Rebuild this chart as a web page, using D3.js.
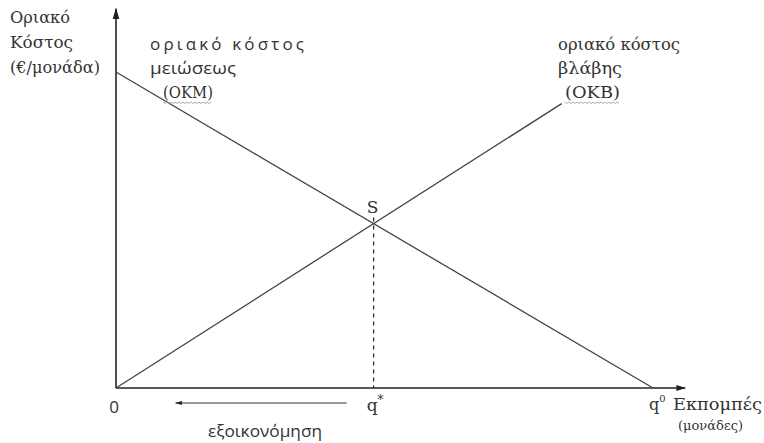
<!DOCTYPE html>
<html>
<head>
<meta charset="utf-8">
<script src="https://cdn.jsdelivr.net/npm/d3@7"></script>
<style>
  body { margin: 0; background: #fff; }
  svg { display: block; }
  .serif { font-family: "DejaVu Serif", serif; fill: #333; }
  .sans { font-family: "Open Sans", sans-serif; fill: #333; }
</style>
</head>
<body>
<div id="chart"></div>
<script>
// emissions (units) and marginal cost values (€/unit)
const okmQ = [0, 100];
const okmCost = [100, 0];
const okbQ = [0, 83];
const okbCost = [0, 90];
const axisMax = {q: 106, cost: 120};

const yTitle = ['Οριακό', 'Κόστος', '(€/μονάδα)'];
const okmLabel = ['οριακό κόστος', 'μειώσεως', '(ΟΚΜ)'];
const okbLabel = ['οριακό κόστος', 'βλάβης', '(ΟΚΒ)'];
const xTitle = ['Εκπομπές', '(μονάδες)'];
const savingLabel = 'εξοικονόμηση';

const width = 764, height = 443;

const svg = d3.select('#chart')
  .append('svg')
  .attr('width', width)
  .attr('height', height);

const x = d3.scaleLinear().domain([0, 100]).range([116, 653]);
const y = d3.scaleLinear().domain([0, 100]).range([388, 72]);

// intersection of the two lines
const mOkm = (okmCost[1] - okmCost[0]) / (okmQ[1] - okmQ[0]);
const mOkb = (okbCost[1] - okbCost[0]) / (okbQ[1] - okbQ[0]);
const qStar = (okmCost[0] - okbCost[0]) / (mOkb - mOkm);
const cStar = okbCost[0] + mOkb * qStar;

// arrow markers
const defs = svg.append('defs');
defs.append('marker')
  .attr('id', 'arrow')
  .attr('viewBox', '0 0 10 10')
  .attr('refX', 9).attr('refY', 5)
  .attr('markerWidth', 7).attr('markerHeight', 7)
  .attr('orient', 'auto-start-reverse')
  .append('path')
    .attr('d', 'M0,2 L10,5 L0,8 Z')
    .attr('fill', '#222');

// axes
svg.append('line')
  .attr('x1', x(0)).attr('y1', y(0))
  .attr('x2', x(0)).attr('y2', y(axisMax.cost))
  .attr('stroke', '#222').attr('stroke-width', 1.6)
  .attr('marker-end', 'url(#arrow)');

svg.append('line')
  .attr('x1', x(0)).attr('y1', y(0))
  .attr('x2', x(axisMax.q)).attr('y2', y(0))
  .attr('stroke', '#222').attr('stroke-width', 1.4)
  .attr('marker-end', 'url(#arrow)');

const line = d3.line()
  .x(d => x(d[0]))
  .y(d => y(d[1]));

[d3.zip(okmQ, okmCost), d3.zip(okbQ, okbCost)].forEach(pts => {
  svg.append('path')
    .datum(pts)
    .attr('d', line)
    .attr('fill', 'none')
    .attr('stroke', '#444')
    .attr('stroke-width', 1.3);
});

// dashed drop line from S
svg.append('line')
  .attr('x1', x(qStar)).attr('y1', y(cStar) - 6)
  .attr('x2', x(qStar)).attr('y2', y(0))
  .attr('stroke', '#222')
  .attr('stroke-width', 1.2)
  .attr('stroke-dasharray', '4,4');

svg.append('text')
  .attr('class', 'serif')
  .attr('x', x(qStar) - 1).attr('y', y(cStar) - 11)
  .attr('text-anchor', 'middle')
  .attr('font-size', 17)
  .text('S');

// saving arrow
svg.append('line')
  .attr('x1', x(qStar) - 27).attr('y1', 403)
  .attr('x2', x(qStar) - 198).attr('y2', 403)
  .attr('stroke', '#333')
  .attr('stroke-width', 1)
  .attr('marker-end', 'url(#arrow)');

svg.append('text')
  .attr('class', 'sans')
  .attr('x', 208).attr('y', 437)
  .attr('font-size', 16)
  .attr('textLength', 114)
  .attr('lengthAdjust', 'spacingAndGlyphs')
  .text(savingLabel);

// x-axis labels
svg.append('text')
  .attr('class', 'sans')
  .attr('x', x(0) - 2).attr('y', 413)
  .attr('text-anchor', 'middle')
  .attr('font-size', 17)
  .text('0');

const qs = svg.append('text')
  .attr('class', 'serif')
  .attr('x', x(qStar) - 7).attr('y', 411)
  .attr('font-size', 17);
qs.append('tspan').text('q');
qs.append('tspan').attr('dy', -7).attr('font-size', 12).text('*');

const q0 = svg.append('text')
  .attr('class', 'serif')
  .attr('x', x(100) - 4).attr('y', 410)
  .attr('font-size', 16);
q0.append('tspan').text('q');
q0.append('tspan').attr('dy', -8).attr('font-size', 10).text('0');

svg.append('text')
  .attr('class', 'serif')
  .attr('x', 673).attr('y', 410)
  .attr('font-size', 16)
  .attr('textLength', 89)
  .attr('lengthAdjust', 'spacingAndGlyphs')
  .text(xTitle[0]);

svg.append('text')
  .attr('class', 'serif')
  .attr('x', 678).attr('y', 430)
  .attr('font-size', 13)
  .attr('textLength', 65)
  .attr('lengthAdjust', 'spacingAndGlyphs')
  .text(xTitle[1]);

// y-axis title
const yLens = [60, 63, 90];
yTitle.forEach((t, i) => {
  svg.append('text')
    .attr('class', 'serif')
    .attr('x', 10).attr('y', 23 + i * 25)
    .attr('font-size', 17)
    .attr('textLength', yLens[i])
    .attr('lengthAdjust', 'spacingAndGlyphs')
    .text(t);
});

// OKM label
const okmLens = [154, 86, 50];
const okmX = [150, 150, 163];
okmLabel.forEach((t, i) => {
  svg.append('text')
    .attr('class', i < 2 ? 'sans' : 'serif')
    .attr('x', okmX[i]).attr('y', 50 + i * 24)
    .attr('font-size', 17)
    .attr('textLength', okmLens[i])
    .attr('lengthAdjust', i === 0 ? 'spacing' : 'spacingAndGlyphs')
    .text(t);
});

// OKB label
const okbLens = [122, 64, 55];
const okbX = [558, 558, 565];
okbLabel.forEach((t, i) => {
  svg.append('text')
    .attr('class', 'serif')
    .attr('x', okbX[i]).attr('y', 50 + i * 24)
    .attr('font-size', 16)
    .attr('textLength', okbLens[i])
    .attr('lengthAdjust', 'spacingAndGlyphs')
    .text(t);
});

// spell-check squiggles under the acronyms
function squiggle(x0, x1, yy) {
  const pts = d3.range(x0, x1, 2).map((v, i) => [v, yy + (i % 2 ? 1.5 : 0)]);
  svg.append('path')
    .attr('d', d3.line()(pts))
    .attr('fill', 'none')
    .attr('stroke', '#999')
    .attr('stroke-width', 0.8);
}
squiggle(163, 213, 102);
squiggle(565, 620, 102);
</script>
</body>
</html>
